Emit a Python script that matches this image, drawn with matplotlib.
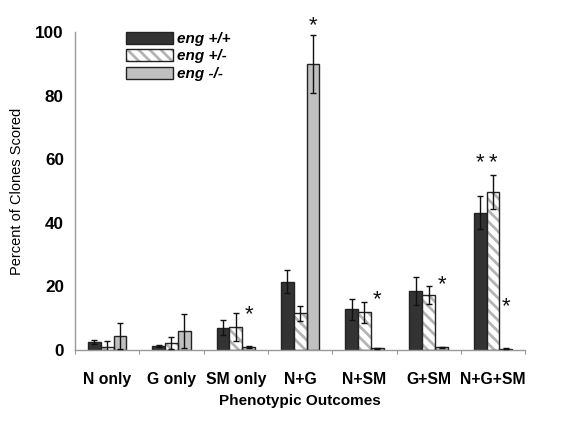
import numpy as np
import matplotlib
matplotlib.use("Agg")
import matplotlib.pyplot as plt
from matplotlib.patches import Patch, Rectangle

plt.rcParams["font.family"] = ["Liberation Sans", "DejaVu Sans"]
plt.rcParams["hatch.linewidth"] = 2.0

categories = ["N only", "G only", "SM only", "N+G", "N+SM", "G+SM", "N+G+SM"]
series = ["eng +/+", "eng +/-", "eng -/-"]
wt = [2.5, 1.4, 7.0, 21.5, 12.8, 18.6, 43.2]
het = [1.1, 2.2, 7.2, 11.5, 11.9, 17.3, 49.8]
ko = [4.4, 5.9, 1.0, 90.0, 0.5, 0.9, 0.4]
wt_err = [0.5, 0.3, 2.4, 3.7, 3.4, 4.4, 5.2]
het_err = [1.6, 1.8, 4.3, 2.4, 3.3, 2.9, 5.4]
ko_err = [4.0, 5.3, 0.3, 9.0, 0.2, 0.2, 0.1]
# significance asterisks: group index, series index, height of the mark
star_group = [2, 3, 4, 5, 6, 6, 6]
star_series = [2, 2, 2, 2, 0, 1, 2]
star_y = [11.0, 102.0, 15.7, 20.4, 59.0, 59.0, 13.5]

vals = [wt, het, ko]
errs = [wt_err, het_err, ko_err]
faces = ["#333333", "white", "#c0c0c0"]
hatches = [None, "\\\\\\", None]
HATCH_C = "#b4b4b4"
EDGE = "#222222"

fig = plt.figure(figsize=(5.62, 4.40), dpi=100)
ax = fig.add_axes([0.1335, 0.2045, 0.801, 0.7225])

x = np.arange(len(categories))
w = 0.2
for i in range(3):
    xs = x + (i - 1) * w
    if hatches[i]:
        # hatch in light grey, dark outline drawn on top as a separate bar
        ax.bar(xs, vals[i], w, color=faces[i], edgecolor=HATCH_C, lw=0,
               hatch=hatches[i], zorder=2)
        ax.bar(xs, vals[i], w, fill=False, edgecolor=EDGE, lw=1.0, zorder=2.1)
    else:
        ax.bar(xs, vals[i], w, color=faces[i], edgecolor=EDGE, lw=1.0, zorder=2)
    ax.errorbar(xs, vals[i], yerr=errs[i], fmt="none",
                ecolor="#111111", elinewidth=1.0, capsize=2.5, capthick=1.0, zorder=3)

for g, s, y in zip(star_group, star_series, star_y):
    ax.text(g + (s - 1) * w, y, "*", ha="center", va="center",
            fontsize=16, color="#111111", clip_on=False)

ax.set_xlim(-0.5, 6.5)
ax.set_ylim(0, 100)
ax.set_yticks([0, 20, 40, 60, 80, 100])
ax.set_xticks(np.arange(-0.5, 7.0, 1.0), minor=False)
ax.set_xticklabels([])
ax.set_xticks(x, minor=True)
ax.set_xticklabels(categories, minor=True, fontsize=11.3, fontweight="bold")
ax.tick_params(axis="x", which="minor", length=0, pad=16)
ax.tick_params(axis="x", which="major", length=3, color="#999999", direction="out")
ax.tick_params(axis="y", length=0, pad=8, labelsize=12.3)
for lab in ax.get_yticklabels():
    lab.set_fontweight("bold")

for sp in ["top", "right"]:
    ax.spines[sp].set_visible(False)
for sp in ["left", "bottom"]:
    ax.spines[sp].set_color("#999999")
    ax.spines[sp].set_linewidth(1.0)

ax.set_ylabel("Percent of Clones Scored", fontsize=10.5, labelpad=8)
ax.set_xlabel("Phenotypic Outcomes", fontsize=11, fontweight="bold", labelpad=5)

handles = [Patch(facecolor=faces[0], edgecolor=EDGE, label=series[0]),
           Patch(facecolor=faces[1], edgecolor=HATCH_C, hatch=hatches[1], lw=0,
                 label=series[1]),
           Patch(facecolor=faces[2], edgecolor=EDGE, label=series[2])]
leg = ax.legend(handles=handles, loc="upper left", bbox_to_anchor=(0.085, 1.04),
                frameon=False, handlelength=3.1, handleheight=0.85, handletextpad=0.25,
                labelspacing=0.2, borderpad=0.3,
                prop={"size": 11, "weight": "bold", "style": "italic"})

# dark outline around the hatched legend key
fig.canvas.draw()
bb = leg.get_patches()[1].get_window_extent(fig.canvas.get_renderer())
fig.patches.append(Rectangle((bb.x0 / fig.bbox.width, bb.y0 / fig.bbox.height),
                             bb.width / fig.bbox.width, bb.height / fig.bbox.height,
                             transform=fig.transFigure, fill=False,
                             edgecolor=EDGE, lw=1.0, zorder=10))

fig.savefig("out.png", dpi=100)
